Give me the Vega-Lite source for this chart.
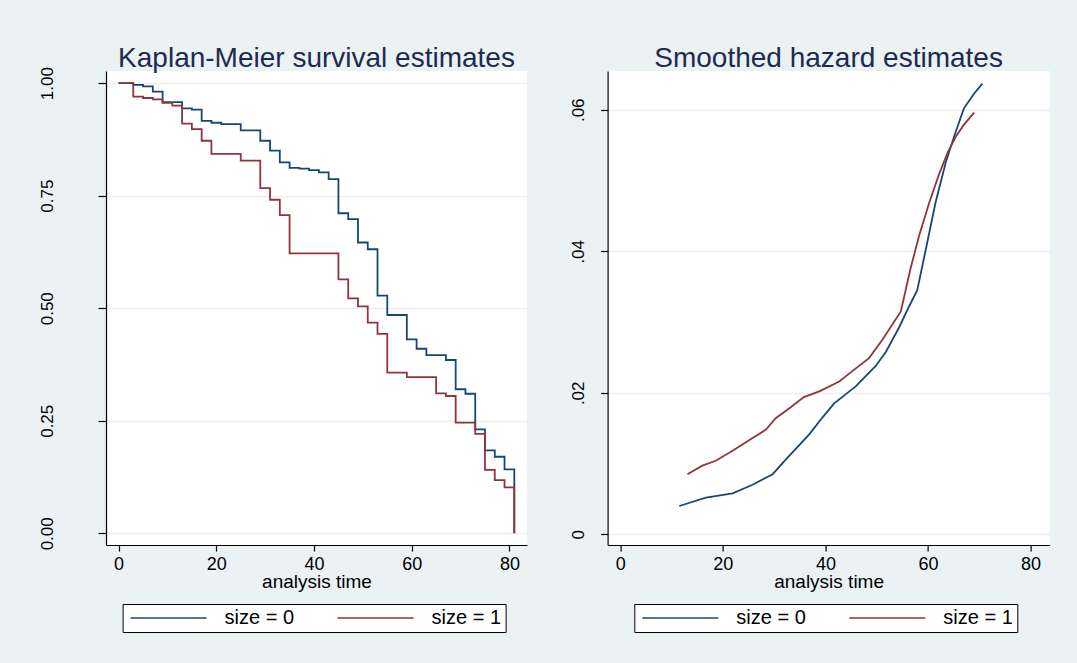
{
  "$schema": "https://vega.github.io/schema/vega-lite/v6.json",
  "background": "#EAF2F3",
  "padding": {"left": 38, "top": 44, "right": 27, "bottom": 40},
  "config": {
    "font": "Liberation Sans",
    "view": {"fill": "white", "stroke": null},
    "axis": {"domainColor": "#000000", "tickColor": "#000000", "labelColor": "#000000", "titleColor": "#000000", "gridColor": "#E8F0F2", "gridWidth": 1.5, "labelFontSize": 18, "titleFontSize": 19, "titleFontWeight": "normal", "domainWidth": 1.2, "tickWidth": 1.2, "labelFont": "Liberation Sans", "titleFont": "Liberation Sans"},
    "title": {"fontSize": 28, "fontWeight": "normal", "color": "#1C2B4F", "font": "Liberation Sans", "baseline": "alphabetic", "frame": "group"},
    "legend": {
      "orient": "none", "direction": "horizontal", "title": null,
      "symbolType": "M-1.2,0H14", "symbolSize": 100, "symbolStrokeWidth": 1.5,
      "labelFontSize": 20, "labelColor": "#000000", "labelFont": "Liberation Sans", "labelOffset": 78, "columnPadding": 39, "padding": 4,
      "fillColor": "white", "strokeColor": "#000000"
    }
  },
  "datasets": {
    "km": [
      {"t": 0, "s": 1.0, "size": "0"}, {"t": 3, "s": 0.996, "size": "0"}, {"t": 5, "s": 0.993, "size": "0"}, {"t": 7, "s": 0.981, "size": "0"}, {"t": 9, "s": 0.958, "size": "0"}, {"t": 13, "s": 0.944, "size": "0"}, {"t": 15, "s": 0.941, "size": "0"}, {"t": 17, "s": 0.916, "size": "0"}, {"t": 19, "s": 0.912, "size": "0"}, {"t": 21, "s": 0.909, "size": "0"}, {"t": 25, "s": 0.895, "size": "0"}, {"t": 29, "s": 0.872, "size": "0"}, {"t": 31, "s": 0.850, "size": "0"}, {"t": 33, "s": 0.824, "size": "0"}, {"t": 35, "s": 0.812, "size": "0"}, {"t": 37, "s": 0.810, "size": "0"}, {"t": 39, "s": 0.807, "size": "0"}, {"t": 41, "s": 0.802, "size": "0"}, {"t": 43, "s": 0.787, "size": "0"}, {"t": 45, "s": 0.711, "size": "0"}, {"t": 47, "s": 0.698, "size": "0"}, {"t": 49, "s": 0.646, "size": "0"}, {"t": 51, "s": 0.631, "size": "0"}, {"t": 53, "s": 0.528, "size": "0"}, {"t": 55, "s": 0.485, "size": "0"}, {"t": 59, "s": 0.431, "size": "0"}, {"t": 61, "s": 0.410, "size": "0"}, {"t": 63, "s": 0.396, "size": "0"}, {"t": 67, "s": 0.385, "size": "0"}, {"t": 69, "s": 0.320, "size": "0"}, {"t": 71, "s": 0.310, "size": "0"}, {"t": 73, "s": 0.231, "size": "0"}, {"t": 75, "s": 0.184, "size": "0"}, {"t": 77, "s": 0.170, "size": "0"}, {"t": 79, "s": 0.142, "size": "0"}, {"t": 81, "s": 0.0, "size": "0"},
      {"t": 0, "s": 1.0, "size": "1"}, {"t": 3, "s": 0.970, "size": "1"}, {"t": 5, "s": 0.967, "size": "1"}, {"t": 7, "s": 0.964, "size": "1"}, {"t": 9, "s": 0.956, "size": "1"}, {"t": 11, "s": 0.950, "size": "1"}, {"t": 13, "s": 0.910, "size": "1"}, {"t": 15, "s": 0.898, "size": "1"}, {"t": 17, "s": 0.872, "size": "1"}, {"t": 19, "s": 0.843, "size": "1"}, {"t": 25, "s": 0.828, "size": "1"}, {"t": 29, "s": 0.767, "size": "1"}, {"t": 31, "s": 0.741, "size": "1"}, {"t": 33, "s": 0.707, "size": "1"}, {"t": 35, "s": 0.622, "size": "1"}, {"t": 45, "s": 0.564, "size": "1"}, {"t": 47, "s": 0.522, "size": "1"}, {"t": 49, "s": 0.504, "size": "1"}, {"t": 51, "s": 0.468, "size": "1"}, {"t": 53, "s": 0.443, "size": "1"}, {"t": 55, "s": 0.357, "size": "1"}, {"t": 59, "s": 0.347, "size": "1"}, {"t": 65, "s": 0.311, "size": "1"}, {"t": 67, "s": 0.305, "size": "1"}, {"t": 69, "s": 0.246, "size": "1"}, {"t": 73, "s": 0.221, "size": "1"}, {"t": 75, "s": 0.141, "size": "1"}, {"t": 77, "s": 0.118, "size": "1"}, {"t": 79, "s": 0.102, "size": "1"}, {"t": 81, "s": 0.0, "size": "1"}
    ],
    "hz": [
      {"t": 11.5, "h": 0.0040, "size": "0"}, {"t": 16.7, "h": 0.0052, "size": "0"}, {"t": 21.9, "h": 0.0058, "size": "0"}, {"t": 25.8, "h": 0.0070, "size": "0"}, {"t": 29.7, "h": 0.0085, "size": "0"}, {"t": 32.3, "h": 0.0106, "size": "0"}, {"t": 36.8, "h": 0.0141, "size": "0"}, {"t": 39.4, "h": 0.0165, "size": "0"}, {"t": 41.7, "h": 0.0185, "size": "0"}, {"t": 45.9, "h": 0.0209, "size": "0"}, {"t": 49.8, "h": 0.0238, "size": "0"}, {"t": 51.8, "h": 0.0258, "size": "0"}, {"t": 54.4, "h": 0.0293, "size": "0"}, {"t": 56.3, "h": 0.0322, "size": "0"}, {"t": 57.9, "h": 0.0345, "size": "0"}, {"t": 59.6, "h": 0.0404, "size": "0"}, {"t": 61.5, "h": 0.0470, "size": "0"}, {"t": 63.5, "h": 0.0527, "size": "0"}, {"t": 65.4, "h": 0.0569, "size": "0"}, {"t": 67.0, "h": 0.0602, "size": "0"}, {"t": 69.0, "h": 0.0623, "size": "0"}, {"t": 70.6, "h": 0.0637, "size": "0"},
      {"t": 13.1, "h": 0.0085, "size": "1"}, {"t": 16.0, "h": 0.0097, "size": "1"}, {"t": 18.6, "h": 0.0104, "size": "1"}, {"t": 21.9, "h": 0.0118, "size": "1"}, {"t": 25.8, "h": 0.0136, "size": "1"}, {"t": 28.4, "h": 0.0148, "size": "1"}, {"t": 30.3, "h": 0.0164, "size": "1"}, {"t": 33.3, "h": 0.0180, "size": "1"}, {"t": 35.8, "h": 0.0194, "size": "1"}, {"t": 38.8, "h": 0.0202, "size": "1"}, {"t": 42.7, "h": 0.0216, "size": "1"}, {"t": 45.3, "h": 0.0231, "size": "1"}, {"t": 48.5, "h": 0.0249, "size": "1"}, {"t": 51.1, "h": 0.0275, "size": "1"}, {"t": 54.7, "h": 0.0315, "size": "1"}, {"t": 56.6, "h": 0.0376, "size": "1"}, {"t": 58.3, "h": 0.0423, "size": "1"}, {"t": 60.2, "h": 0.0468, "size": "1"}, {"t": 62.1, "h": 0.0508, "size": "1"}, {"t": 63.8, "h": 0.0539, "size": "1"}, {"t": 65.4, "h": 0.0562, "size": "1"}, {"t": 67.0, "h": 0.0579, "size": "1"}, {"t": 69.0, "h": 0.0596, "size": "1"}
    ]
  },
  "bounds": "flush",
  "spacing": 80.6,
  "resolve": {"scale": {"stroke": "independent"}, "legend": {"stroke": "independent"}},
  "hconcat": [
    {
      "width": 421, "height": 474,
      "title": {"text": "Kaplan-Meier survival estimates", "offset": -6},
      "data": {"name": "km"},
      "mark": {"type": "line", "interpolate": "step-after", "strokeWidth": 1.8},
      "encoding": {
        "x": {"field": "t", "type": "quantitative", "scale": {"domain": [-2.58, 83.6], "nice": false, "zero": false}, "axis": {"values": [0, 20, 40, 60, 80], "title": "analysis time", "grid": false, "tickSize": 6, "labelPadding": 4, "titlePadding": -1}},
        "y": {"field": "s", "type": "quantitative", "scale": {"domain": [-0.026, 1.027], "nice": false, "zero": false}, "axis": {"values": [0, 0.25, 0.5, 0.75, 1], "format": ".2f", "labelAngle": -90, "labelAlign": "center", "labelBaseline": "bottom", "labelPadding": 41.5, "labelFontSize": 17, "tickSize": 8, "title": null, "grid": true}},
        "stroke": {"field": "size", "type": "nominal", "scale": {"domain": ["0", "1"], "range": ["#1A476F", "#90353B"]}, "legend": {"legendX": 16.6, "legendY": 533, "labelExpr": "'size = ' + datum.label + (datum.label == '1' ? '\u00a0\u00a0' : '')"}}
      }
    },
    {
      "width": 442, "height": 474,
      "title": {"text": "Smoothed hazard estimates", "offset": -2},
      "data": {"name": "hz"},
      "mark": {"type": "line", "strokeWidth": 1.8},
      "encoding": {
        "x": {"field": "t", "type": "quantitative", "scale": {"domain": [-2.47, 83.7], "nice": false, "zero": false}, "axis": {"values": [0, 20, 40, 60, 80], "title": "analysis time", "grid": false, "tickSize": 6, "labelPadding": 4, "titlePadding": -1}},
        "y": {"field": "h", "type": "quantitative", "scale": {"domain": [-0.00151, 0.06548], "nice": false, "zero": false}, "axis": {"values": [0, 0.02, 0.04, 0.06], "labelExpr": "datum.value == 0 ? '0' : replace(format(datum.value, '.2f'), '0.', '.')", "labelAngle": -90, "labelAlign": "center", "labelBaseline": "bottom", "labelPadding": 13, "labelFontSize": 17, "tickSize": 7, "title": null, "grid": true}},
        "stroke": {"field": "size", "type": "nominal", "scale": {"domain": ["0", "1"], "range": ["#1A476F", "#90353B"]}, "legend": {"legendX": 26.7, "legendY": 533, "labelExpr": "'size = ' + datum.label + (datum.label == '1' ? '\u00a0\u00a0' : '')"}}
      }
    }
  ]
}
